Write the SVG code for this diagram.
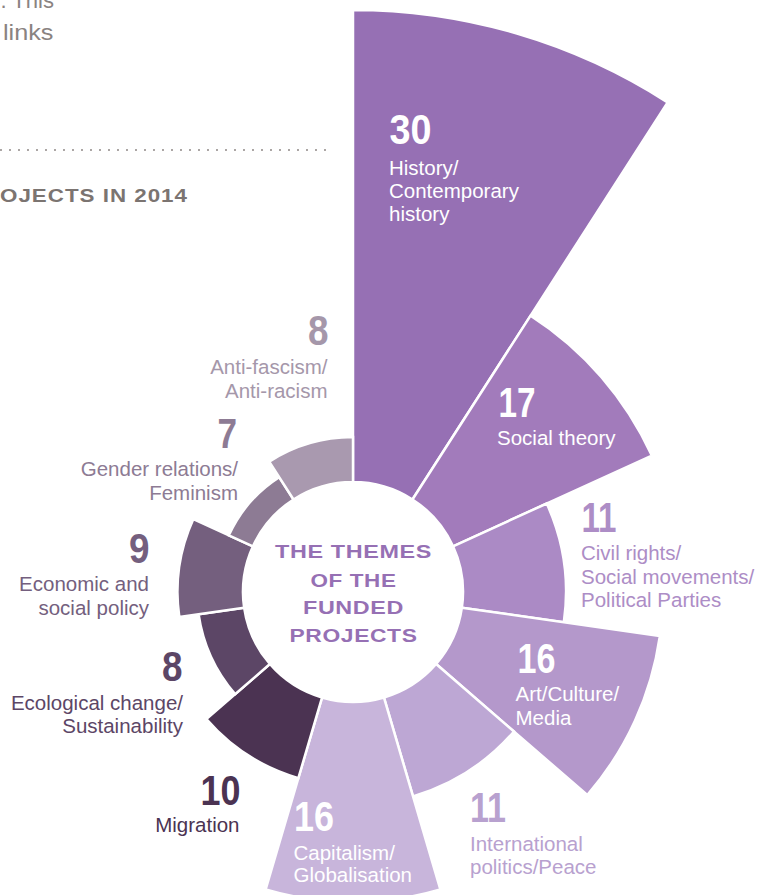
<svg xmlns="http://www.w3.org/2000/svg" width="758" height="895" viewBox="0 0 758 895">
<style>
.s{stroke:#ffffff;stroke-width:2.5;stroke-linejoin:miter}
.num{font-family:"Liberation Sans",Arial,sans-serif;font-weight:bold;font-size:43px}
.lab{font-family:"Liberation Sans",Arial,sans-serif;font-size:20.5px}
.w{fill:#ffffff}
.end{text-anchor:end}
.intro{font-family:"Liberation Sans",Arial,sans-serif;font-size:22px;fill:#8a8381}
.head{font-family:"Liberation Sans",Arial,sans-serif;font-weight:bold;font-size:18px;fill:#7b7471;letter-spacing:0.8px}
.ctr{font-family:"Liberation Sans",Arial,sans-serif;font-weight:bold;font-size:18.5px;fill:#9670b4;text-anchor:middle;letter-spacing:0.5px}
</style>
<rect width="758" height="895" fill="#ffffff"/>
<g id="intro">
<text class="intro" x="0.5" y="7.5" textLength="53.5" lengthAdjust="spacingAndGlyphs">. This</text>
<text class="intro" x="3" y="40" textLength="50.5" lengthAdjust="spacingAndGlyphs">links</text>
<line x1="1" y1="150" x2="326" y2="150" stroke="#8f8886" stroke-width="2" stroke-linecap="round" stroke-dasharray="0 9"/>
<text class="head" x="0" y="202" textLength="188" lengthAdjust="spacingAndGlyphs">OJECTS IN 2014</text>
</g>
<g id="history">
<path class="s" fill="#9670b4" d="M353,482 L353,10 A582,582 0 0 1 667.63,102.36 L412.47,499.46 A110,110 0 0 0 353,482 Z"/>
<text class="num w" x="389.5" y="144" textLength="42" lengthAdjust="spacingAndGlyphs">30</text>
<text class="lab w" x="389" y="174.5">History/</text>
<text class="lab w" x="389" y="197.5">Contemporary</text>
<text class="lab w" x="389" y="220.5">history</text>
</g>
<g id="social-theory">
<path class="s" fill="#a27bbb" d="M412.47,499.46 L530.59,315.63 A328.5,328.5 0 0 1 651.80,455.54 L453.06,546.31 A110,110 0 0 0 412.47,499.46 Z"/>
<text class="num w" x="498.5" y="417" textLength="37" lengthAdjust="spacingAndGlyphs">17</text>
<text class="lab w" x="497" y="445">Social theory</text>
</g>
<g id="civil-rights">
<path class="s" fill="#ab8ac5" d="M453.06,546.31 L546.74,503.52 A213,213 0 0 1 563.83,622.31 L461.88,607.65 A110,110 0 0 0 453.06,546.31 Z"/>
<text class="num" fill="#ad8dc6" x="581.5" y="532" textLength="35" lengthAdjust="spacingAndGlyphs">11</text>
<text class="lab" fill="#ad8dc6" x="581" y="560">Civil rights/</text>
<text class="lab" fill="#ad8dc6" x="581" y="583.5">Social movements/</text>
<text class="lab" fill="#ad8dc6" x="581" y="607">Political Parties</text>
</g>
<g id="art-culture">
<path class="s" fill="#b498cb" d="M461.88,607.65 L659.84,636.11 A310,310 0 0 1 587.27,795.02 L436.13,664.04 A110,110 0 0 0 461.88,607.65 Z"/>
<text class="num w" x="517.5" y="673" textLength="38" lengthAdjust="spacingAndGlyphs">16</text>
<text class="lab w" x="515.5" y="701">Art/Culture/</text>
<text class="lab w" x="515.5" y="725">Media</text>
</g>
<g id="international-politics">
<path class="s" fill="#bda7d4" d="M436.13,664.04 L513.96,731.49 A213,213 0 0 1 413.00,796.37 L383.99,697.55 A110,110 0 0 0 436.13,664.04 Z"/>
<text class="num" fill="#b8a1cf" x="470" y="822" textLength="36" lengthAdjust="spacingAndGlyphs">11</text>
<text class="lab" fill="#b8a1cf" x="470" y="851">International</text>
<text class="lab" fill="#b8a1cf" x="470" y="873.5">politics/Peace</text>
</g>
<g id="capitalism">
<path class="s" fill="#c8b5db" d="M383.99,697.55 L440.33,889.45 A310,310 0 0 1 265.67,889.45 L322.01,697.55 A110,110 0 0 0 383.99,697.55 Z"/>
<text class="num w" x="294" y="831" textLength="40" lengthAdjust="spacingAndGlyphs">16</text>
<text class="lab w" x="293.5" y="859.5">Capitalism/</text>
<text class="lab w" x="293.5" y="882">Globalisation</text>
</g>
<g id="migration">
<path class="s" fill="#4b3352" d="M322.01,697.55 L298.35,778.14 A194,194 0 0 1 206.39,719.05 L269.87,664.04 A110,110 0 0 0 322.01,697.55 Z"/>
<text class="num end" fill="#4b3352" x="240.5" y="804.5" textLength="40" lengthAdjust="spacingAndGlyphs">10</text>
<text class="lab end" fill="#4b3352" x="239.5" y="832">Migration</text>
</g>
<g id="ecological-change">
<path class="s" fill="#5c4666" d="M269.87,664.04 L235.11,694.16 A156,156 0 0 1 198.59,614.20 L244.12,607.65 A110,110 0 0 0 269.87,664.04 Z"/>
<text class="num end" fill="#5c4666" x="182.5" y="681" textLength="20.5" lengthAdjust="spacingAndGlyphs">8</text>
<text class="lab end" fill="#5c4666" x="183" y="709.5">Ecological change/</text>
<text class="lab end" fill="#5c4666" x="183" y="733">Sustainability</text>
</g>
<g id="economic-social-policy">
<path class="s" fill="#745f7e" d="M244.12,607.65 L179.29,616.97 A175.5,175.5 0 0 1 193.37,519.10 L252.94,546.31 A110,110 0 0 0 244.12,607.65 Z"/>
<text class="num end" fill="#745f7e" x="149.5" y="563" textLength="20.5" lengthAdjust="spacingAndGlyphs">9</text>
<text class="lab end" fill="#745f7e" x="149" y="591">Economic and</text>
<text class="lab end" fill="#745f7e" x="149" y="615">social policy</text>
</g>
<g id="gender-relations">
<path class="s" fill="#8d7b94" d="M252.94,546.31 L228.84,535.30 A136.5,136.5 0 0 1 279.21,477.16 L293.53,499.46 A110,110 0 0 0 252.94,546.31 Z"/>
<text class="num end" fill="#8d7b94" x="237" y="448" textLength="19.5" lengthAdjust="spacingAndGlyphs">7</text>
<text class="lab end" fill="#8d7b94" x="238" y="476">Gender relations/</text>
<text class="lab end" fill="#8d7b94" x="238" y="499.5">Feminism</text>
</g>
<g id="anti-fascism">
<path class="s" fill="#a999af" d="M293.53,499.46 L269.21,461.60 A155,155 0 0 1 353,437 L353,482 A110,110 0 0 0 293.53,499.46 Z"/>
<text class="num end" fill="#a597aa" x="328.5" y="345" textLength="20.5" lengthAdjust="spacingAndGlyphs">8</text>
<text class="lab end" fill="#a597aa" x="327.5" y="374">Anti-fascism/</text>
<text class="lab end" fill="#a597aa" x="327.5" y="398">Anti-racism</text>
</g>
<g id="center-title">
<text class="ctr" x="353.5" y="558.3" textLength="157" lengthAdjust="spacingAndGlyphs">THE THEMES</text>
<text class="ctr" x="353.5" y="586.5" textLength="86" lengthAdjust="spacingAndGlyphs">OF THE</text>
<text class="ctr" x="353.5" y="614.3" textLength="101" lengthAdjust="spacingAndGlyphs">FUNDED</text>
<text class="ctr" x="353.5" y="641.7" textLength="128" lengthAdjust="spacingAndGlyphs">PROJECTS</text>
</g>
</svg>
